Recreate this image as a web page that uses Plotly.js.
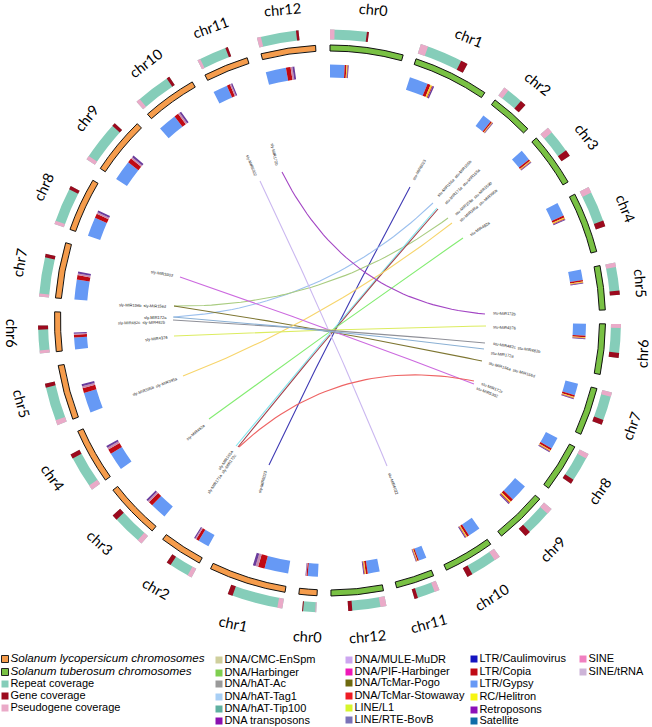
<!DOCTYPE html>
<html><head><meta charset="utf-8">
<script src="https://cdn.plot.ly/plotly-3.0.0.min.js"></script>
<style>html,body{margin:0;padding:0;background:#fff}#chart{width:652px;height:727px}</style>
</head><body><div id="chart"></div>
<script>
// ---- chromosome data (degrees clockwise from top) ----
const chrNames = ['chr0','chr1','chr2','chr3','chr4','chr5','chr6','chr7','chr8','chr9','chr10','chr11','chr12'];
const tuberosumStart = [0,18.2,36.8,48.5,62.7,78.5,90.7,104.3,117.3,130.4,144.3,157.9,168.8];
const tuberosumEnd   = [15.4,34.2,45.9,59.8,75.5,87.8,101.3,114.4,127.5,141.5,155,166,179.8];
const lycopersicumStart = [182.7,189.4,208.3,220.2,234.6,249,263.5,274.7,289.3,303.5,318.5,333,345.5];
const lycopersicumEnd   = [186.5,205.7,217.4,232,246.3,260.6,271.8,286.4,300.6,315.6,330,342.5,357];
// outer coverage track extents
const tuberosumCovEnd = [7.7,28.2,42.2,55.5,71.1,84.9,97.4,111,124.1,137.8,151.8,163.1,176.4];
const lycopersicumCovEnd = [185.5,200.5,214,228.1,242.7,257.5,269,283.2,297.4,312.5,326.6,339.5,353.8];
const tuberosumPseudo = [0.9,1.5,1,1.2,1.2,0.9,0.8,0.9,1,1.2,1.2,1,1.2];
const tuberosumGene   = [0.4,1.4,1.2,1.3,1.2,0.8,1,1,0.9,1.2,1.1,0.7,0.8];
const lycopersicumPseudo = [0.2,1,0.9,1,1,1,0.6,0.6,0.7,0.8,0.8,0.6,0.8];
const lycopersicumGene   = [0.2,1,0.9,1.1,0.9,0.8,0.8,0.7,0.7,0.7,0.6,0.5,0.5];
// inner transposon track extents
const tuberosumTeEnd = [4.2,24,39.6,51.9,66.9,81.7,94.2,107.9,121,135.8,148.2,160.4,172.5];
const lycopersicumTeEnd = [185.5,197.5,212,225.7,240.7,255.6,267.3,281,295.4,310,324.5,337.6,352];
const tuberosumBands = [0.9,1.6,0.7,0.9,1.1,0.8,0.8,0.9,1,1.4,1.1,0.7,1];
const lycopersicumBands = [0.5,2.7,1.2,1.8,2,2,1.1,1.8,1.8,1.9,1.8,1.3,1.9];
const tuberosumBandShare = {'LTR/Copia':0.45,'RC/Helitron':0.22,'DNA/TcMar-Stowaway':0.13,'Retroposons':0.2};
const lycopersicumBandShare = {'LTR/Copia':0.55,'SINE':0.22,'Retroposons':0.23};

// ---- chord endpoints (miRNA links) ----
const chordNames = ['MIR6023','MIR172 upper','MIR156 upper','MIR171','MIR171b','MIR156b','MIR395','MIR482a','MIR5302','MIR172b','MIR6022','MIR4376','MIR482c','MIR172a','MIR172c'];
const chordX0 = [410,174,174,236,238,174,183,209,180,282,260,174,173,173,239];
const chordY0 = [187,317,306,446,447,306,376,419,277,172,181,336,320,317,447];
const chordX1 = [269,433,448,437,438,482,452,463,474,485,387,486,485,484,474];
const chordY1 = [465,203,218,208,209,361,223,238,384,314,466,326,343,349,381];
const chordColors = ['#3f3ab4','#9cc0ee','#a9cc80','#84e6ee','#a2424c','#7e7632','#f7d56c','#84ec72','#cc6adf','#a346c4','#cbb8f0','#dcec60','#8f9098','#8ab0d4','#ee6464'];

// ---- legend ----
const legendCol1 = ['<i>Solanum lycopersicum chromosomes</i>','<i>Solanum tuberosum chromosomes</i>','Repeat coverage','Gene coverage','Pseudogene coverage'];
const legendCol1Colors = ['#f59c4c','#79c144','#85cdb9','#9c0a1e','#eaaac8'];
const legendCol2 = ['DNA/CMC-EnSpm','DNA/Harbinger','DNA/hAT-Ac','DNA/hAT-Tag1','DNA/hAT-Tip100','DNA transposons'];
const legendCol2Colors = ['#cfcf9d','#7fcf50','#9a9a9a','#a8cff5','#5fb0a0','#8a10b0'];
const legendCol3 = ['DNA/MULE-MuDR','DNA/PIF-Harbinger','DNA/TcMar-Pogo','DNA/TcMar-Stowaway','LINE/L1','LINE/RTE-BovB'];
const legendCol3Colors = ['#cda6f0','#ee18b8','#6e6a10','#ee1c24','#d6f52c','#7a72b8'];
const legendCol4 = ['LTR/Caulimovirus','LTR/Copia','LTR/Gypsy','RC/Helitron','Retroposons','Satellite'];
const legendCol4Colors = ['#1414c0','#c00a14','#6699f5','#f7f510','#8c10b8','#106ca8'];
const legendCol5 = ['SINE','SINE/tRNA'];
const legendCol5Colors = ['#f080c0','#cdb4d8'];

// ---- label layout (page pixels) ----
const chrLabelSets = [
 {x:[373,469,538,587,626,641,642,631,599,552,491,428,367], y:[9,37,83,136,208,283,354,426,491,549,597,623,636], a:[5,22,38,52,68,85,-88,-70,-55,-45,-32,-15,-5]},
 {x:[307,233,156,100,53,22,12,19,43,86,145,210,282], y:[636,623,588,542,477,403,333,263,187,118,63,27,9], a:[3,12,30,42,55,75,90,-80,-65,-52,-38,-20,-5]}
];
const miRNA = [
 ['stu-MIR172b',505,313,3],['stu-MIR4376',505,327,3],['stu-MIR482c&nbsp;&nbsp;stu-MIR482b',517,347,10],['stu-MIR172a',503,354,8],
 ['stu-MIR156a&nbsp;&nbsp;stu-MIR156d',512,369,16],['stu-MIR172c',492,387,22],['stu-MIR5302',488,392,22],
 ['stu-MIR6023',419,169,-60],['stu-MIR156a&nbsp;&nbsp;stu-MIR156b',454,178,-47],['stu-MIR171a&nbsp;&nbsp;stu-MIR165a',462,186,-45],
 ['stu-MIR159a&nbsp;&nbsp;stu-MIR159b',473,198,-42],['stu-MIR395a&nbsp;&nbsp;stu-MIR395b',478,205,-40],['stu-MIR482a',480,228,-33],
 ['stu-MIR6022',394,484,70],
 ['sly-MIR5302',162,273,10],['sly-MIR156b&nbsp;&nbsp;sly-MIR156d',142,305,2],['sly-MIR172a',155,317,0],
 ['sly-MIR482c&nbsp;&nbsp;sly-MIR482b',142,322,-1],['sly-MIR4376',156,338,-6],['sly-MIR395b&nbsp;&nbsp;sly-MIR395a',155,386,-20],
 ['sly-MIR482a',195,432,-40],['sly-MIR165a',225,460,-55],['sly-MIR171a&nbsp;&nbsp;sly-MIR172c',221,474,-55],['sly-MIR6023',262,482,-75],
 ['sly-MIR6022',252,165,68],['sly-MIR172b',275,154,78]
];

// ---- polar tracks ----
const colors = {ringT:'#79c144',ringL:'#f59c4c',repeat:'#85cdb9',gene:'#9c0a1e',pseudo:'#eaaac8',
  gypsy:'#6699f5','LTR/Copia':'#c00a14','RC/Helitron':'#f5d32c','DNA/TcMar-Stowaway':'#d8301c','Retroposons':'#6a3c9c','SINE':'#c88cb0'};
const traces = [];
function arcTrace(name,starts,ends,base,thick,color,line){
  traces.push({type:'barpolar',name:name,theta:starts.map((s,i)=>(s+ends[i])/2),width:starts.map((s,i)=>ends[i]-s),
    r:starts.map(()=>thick),base:starts.map(()=>base),marker:{color:color,line:line||{width:0}},showlegend:false,hoverinfo:'name'});
}
const outline={color:'#111',width:1};
arcTrace('Solanum tuberosum chromosomes',tuberosumStart,tuberosumEnd,269.5,6,colors.ringT,outline);
arcTrace('Solanum lycopersicum chromosomes',lycopersicumStart,lycopersicumEnd,269.5,6,colors.ringL,outline);
function coverage(starts,ends,pseudo,gene,base,thick){
  arcTrace('Repeat coverage',starts,ends,base,thick,colors.repeat);
  arcTrace('Pseudogene coverage',starts,starts.map((s,i)=>s+pseudo[i]),base,thick,colors.pseudo);
  arcTrace('Gene coverage',ends.map((e,i)=>e-gene[i]),ends,base,thick,colors.gene);
}
coverage(tuberosumStart,tuberosumCovEnd,tuberosumPseudo,tuberosumGene,281,10);
coverage(lycopersicumStart,lycopersicumCovEnd,lycopersicumPseudo,lycopersicumGene,282,10);
function transposons(starts,ends,bands,share,base,thick){
  arcTrace('LTR/Gypsy',starts,ends.map((e,i)=>e-bands[i]),base,thick,colors.gypsy);
  let off = ends.map((e,i)=>e-bands[i]);
  Object.keys(share).forEach(k=>{
    const next = off.map((o,i)=>o+bands[i]*share[k]);
    arcTrace(k,off,next,base,thick,colors[k]);
    off = next;
  });
}
transposons(tuberosumStart,tuberosumTeEnd,tuberosumBands,tuberosumBandShare,243,13);
transposons(lycopersicumStart,lycopersicumTeEnd,lycopersicumBands,lycopersicumBandShare,243.5,13);

// ---- chords ----
const hubX = 332, hubY = 328, tension = 0.7;
chordNames.forEach((n,i)=>{
  const xs=[],ys=[];
  const mx=(chordX0[i]+chordX1[i])/2, my=(chordY0[i]+chordY1[i])/2;
  const cX=mx+tension*(hubX-mx), cY=my+tension*(hubY-my);
  for(let k=0;k<=40;k++){const t=k/40,u=1-t;
    xs.push(u*u*chordX0[i]+2*u*t*cX+t*t*chordX1[i]);
    ys.push(u*u*chordY0[i]+2*u*t*cY+t*t*chordY1[i]);}
  traces.push({type:'scatter',mode:'lines',name:n,x:xs,y:ys,xaxis:'x',yaxis:'y',line:{color:chordColors[i],width:1.1},showlegend:false,hoverinfo:'name'});
});

// ---- legend traces ----
function legendColumn(labels,cols,sx,ys,outlined,fs){
  labels.forEach((l,i)=>{
    traces.push({type:'scatter',mode:'markers+text',x:[sx],y:[ys[i]],xaxis:'x',yaxis:'y',text:[l],textposition:'middle right',
      textfont:{family:'Liberation Sans, Arial, sans-serif',size:(fs&&i<2)?fs:11,color:'#000'},
      marker:{symbol:'square',size:7,color:cols[i],line:(outlined&&i<2)?{color:'#222',width:1}:{width:0}},showlegend:false,hoverinfo:'text'});
  });
}
legendColumn(legendCol1,legendCol1Colors,5,[659,672,684,696,708],true,11.7);
legendColumn(legendCol2,legendCol2Colors,219,[660,673,684,697,709,721]);
legendColumn(legendCol3,legendCol3Colors,349,[660,672,683,696,708,720]);
legendColumn(legendCol4,legendCol4Colors,474,[659,672,684,697,710,721]);
legendColumn(legendCol5,legendCol5Colors,583,[659,672]);

// ---- annotations ----
const annotations=[];
chrLabelSets.forEach(s=>chrNames.forEach((c,i)=>annotations.push({xref:'x',yref:'y',x:s.x[i],y:s.y[i],text:c,showarrow:false,textangle:s.a[i],
  font:{family:'Lato, "Open Sans", sans-serif',size:14.5,color:'#000'},xanchor:'center',yanchor:'middle'})));
miRNA.forEach(m=>annotations.push({xref:'x',yref:'y',x:m[1],y:m[2],text:m[0],showarrow:false,textangle:m[3],
  font:{family:'Liberation Sans, Arial, sans-serif',size:4,color:'#222'},xanchor:'center',yanchor:'middle'}));

const W=652,H=727,cx=330,cy=320.5,Rp=320;
const layout={width:W,height:H,margin:{l:0,r:0,t:0,b:0},paper_bgcolor:'#fff',plot_bgcolor:'rgba(0,0,0,0)',showlegend:false,
  xaxis:{range:[0,W],visible:false,fixedrange:true,domain:[0,1]},
  yaxis:{range:[H,0],visible:false,fixedrange:true,domain:[0,1]},
  polar:{domain:{x:[(cx-Rp)/W,(cx+Rp)/W],y:[1-(cy+Rp)/H,1-(cy-Rp)/H]},bgcolor:'rgba(0,0,0,0)',barmode:'overlay',
    radialaxis:{visible:false,range:[0,Rp]},angularaxis:{visible:false,rotation:90,direction:'clockwise'}},
  annotations:annotations};
Plotly.newPlot('chart',traces,layout,{displayModeBar:false,staticPlot:true});
</script></body></html>
